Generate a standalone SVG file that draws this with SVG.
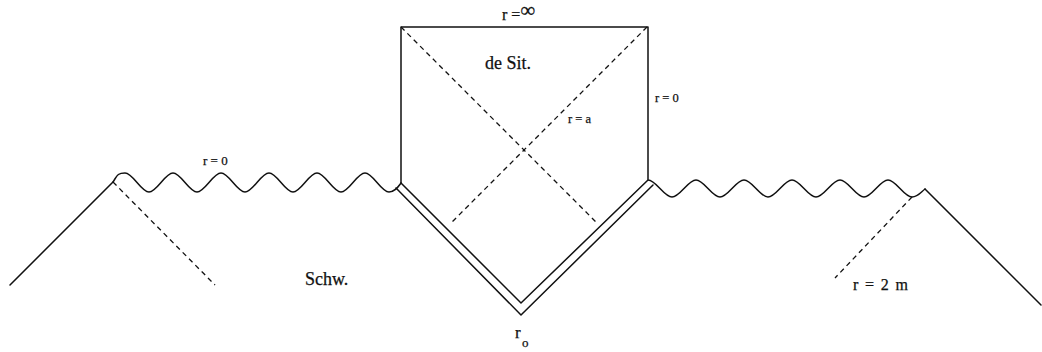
<svg xmlns="http://www.w3.org/2000/svg" width="1042" height="352" viewBox="0 0 1042 352">
<style>
.s{fill:none;stroke:#111;stroke-width:1.5;stroke-linejoin:round;stroke-linecap:round}
.d{fill:none;stroke:#111;stroke-width:1.3;stroke-dasharray:5 4}
.t{font-family:"Liberation Serif","Times New Roman",serif;fill:#111;stroke:#111;stroke-width:0.25}
</style>
<rect width="1042" height="352" fill="#fff"/>
<g id="desitter">
<path class="s" d="M401,183 V27 H648 V179"/>
<line class="d" x1="401" y1="27" x2="598" y2="224"/>
<line class="d" x1="647" y1="27" x2="450" y2="224"/>
</g>
<g id="boundary">
<path class="s" d="M401,183 L521,303 L648,180"/>
<path class="s" d="M396,188 L521,315 L653,185"/>
</g>
<g id="left">
<line class="s" x1="10" y1="285" x2="113" y2="182"/>
<line class="d" x1="113" y1="182" x2="215" y2="285"/>
<path class="s" d="M113,182 C117,176 117,173 125,173 S141,192 149,192 S165,173 173,173 S189,192 197,192 S213,173 221,173 S237,192 245,192 S261,173 269,173 S285,192 293,192 S309,173 317,173 S333,192 341,192 S357,173 365,173 S381,192 389,192 C395,192 398,187 401,183"/>
</g>
<g id="right">
<path class="s" d="M648,180 C656,180 664,197 672,197 S688,180 696,180 S712,197 720,197 S736,180 744,180 S760,197 768,197 S784,180 792,180 S808,197 816,197 S832,180 840,180 S856,197 864,197 S880,180 888,180 S904,197 912,197 C918,197 921,192 925,189"/>
<line class="s" x1="925" y1="189" x2="1041" y2="305"/>
<line class="d" x1="912" y1="197" x2="835" y2="278"/>
</g>
<g id="labels">
<text class="t" x="502" y="20" font-size="16">r =<tspan font-size="21" dy="-3">∞</tspan></text>
<text class="t" x="485" y="69" font-size="18">de Sit.</text>
<text class="t" x="568" y="123" font-size="12.5">r = a</text>
<text class="t" x="655" y="102" font-size="12.5">r = 0</text>
<text class="t" x="203" y="165" font-size="13">r = 0</text>
<text class="t" x="305" y="285" font-size="18">Schw.</text>
<text class="t" x="853" y="290" font-size="16" textLength="55">r = 2 m</text>
<text class="t" x="515" y="338" font-size="17">r</text>
<text class="t" x="522" y="347" font-size="13">o</text>
</g>
</svg>
